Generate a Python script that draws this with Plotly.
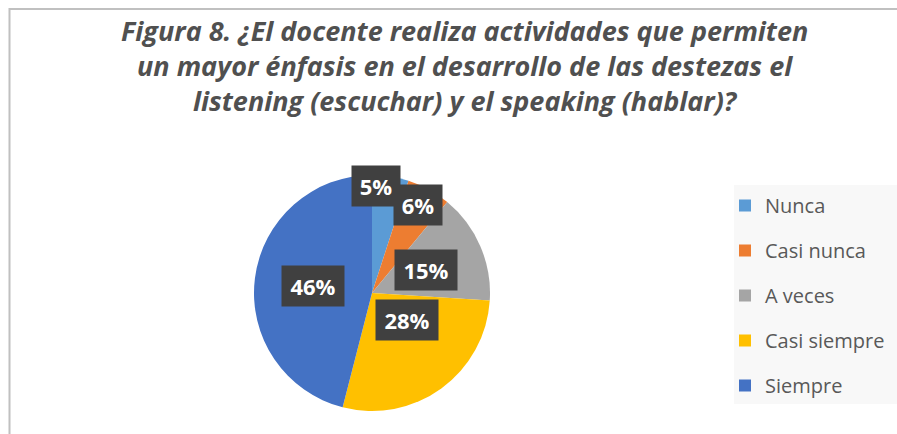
import math
import plotly.graph_objects as go

categories = ["Nunca", "Casi nunca", "A veces", "Casi siempre", "Siempre"]
values = [5, 6, 15, 28, 46]
colors = ["#5B9BD5", "#ED7D31", "#A5A5A5", "#FFC000", "#4472C4"]
title_text = ("Figura 8. ¿El docente realiza actividades que permiten<br>"
              "un mayor énfasis en el desarrollo de las destezas el<br>"
              "listening (escuchar) y el speaking (hablar)?")

W, H = 897, 434
CX, CY, R = 372, 293, 118  # pie centre/radius in pixels (layout)
label_radius = [0.92, 0.85, 0.5, 0.5, 0.5]
label_xshift = [-13, -2, 0, 0, 0]

fig = go.Figure()
fig.add_trace(go.Pie(
    labels=categories, values=values, sort=False, direction="clockwise",
    rotation=0, marker=dict(colors=colors, line=dict(width=0)),
    textinfo="none", hoverinfo="label+percent", showlegend=False,
    domain=dict(x=[(CX - R) / W, (CX + R) / W],
                y=[(H - CY - R) / H, (H - CY + R) / H]),
))

for lab, col in zip(categories, colors):
    fig.add_trace(go.Scatter(x=[None], y=[None], mode="markers", name=lab,
                             legendgroup=lab,
                             marker=dict(symbol="square", size=12, color=col)))

total = sum(values)
cum = 0
annotations = []
for i, v in enumerate(values):
    mid = (cum + v / 2) / total * 2 * math.pi
    cum += v
    r = label_radius[i] * R
    px = CX + r * math.sin(mid)
    py = CY - r * math.cos(mid)
    txt = f"{round(v / total * 100)}%"
    annotations.append(dict(
        x=px / W, y=1 - py / H, xref="paper", yref="paper", text=f"<b>{txt}</b>",
        showarrow=False, xshift=label_xshift[i],
        font=dict(family="Open Sans", size=22, color="white"),
        bgcolor="#404040", borderpad=0,
        width=48 if len(txt) == 2 else 62, height=40,
    ))

annotations.append(dict(
    x=464 / W, y=1 - 10 / H, xref="paper", yref="paper", xanchor="center",
    yanchor="top", showarrow=False, align="center",
    text=f"<b><i>{title_text}</i></b>",
    font=dict(family="Open Sans", size=27, color="#505050"),
))

fig.update_layout(
    width=W, height=H, margin=dict(l=0, r=0, t=0, b=0),
    paper_bgcolor="white", plot_bgcolor="white",
    xaxis=dict(visible=False), yaxis=dict(visible=False),
    legend=dict(x=725 / W, xanchor="left", y=1 - 186 / H, yanchor="top",
                bgcolor="rgba(0,0,0,0)", tracegroupgap=16,
                font=dict(family="Open Sans", size=20, color="#595959"),
                itemclick=False),
    annotations=annotations,
    shapes=[
        dict(type="rect", xref="paper", yref="paper", x0=734 / W, x1=1.02,
             y0=1 - 404 / H, y1=1 - 185 / H, fillcolor="#F8F8F8",
             line=dict(width=0), layer="below"),
        dict(type="path", xref="paper", yref="paper",
             path=f"M {9.5 / W} -0.05 L {9.5 / W} {1 - 9 / H} L 1.05 {1 - 9 / H}",
             line=dict(color="#C0C0C0", width=2)),
    ],
)

fig.write_html("out.html", config={"displayModeBar": False},
               post_script="document.body.style.margin='0';")
